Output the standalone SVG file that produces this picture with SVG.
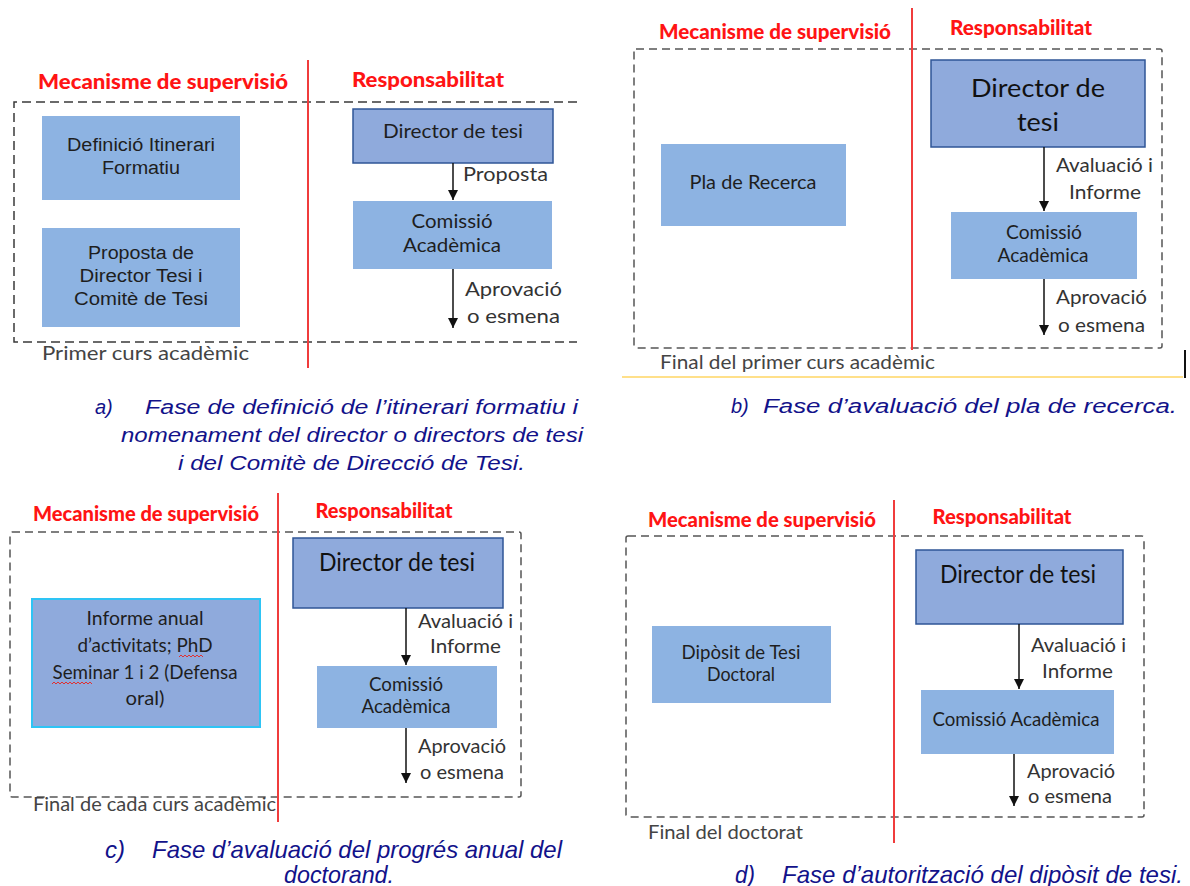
<svg xmlns="http://www.w3.org/2000/svg" width="1190" height="886" viewBox="0 0 1190 886">
<defs>
<style>
.bg{fill:#ffffff}
.lb{fill:#8DB3E2}
.db{fill:#8FAADC;stroke:#2F5597;stroke-width:1.5}
.ib{fill:#8FAADC;stroke:#2EC4F5;stroke-width:2}
.dash{fill:none;stroke:#3a3a3a;stroke-width:1.5;stroke-dasharray:9 5}
.dash2{fill:none;stroke:#555;stroke-width:1.5;stroke-dasharray:8 5}
.red{stroke:#F03C3C;stroke-width:2}
.conn{stroke:#111;stroke-width:1.5;fill:none;marker-end:url(#ah)}
.tt{font-family:Lato,"Liberation Sans",sans-serif;font-weight:900;font-size:20px;fill:#FF1414}
.bx{font-family:"Liberation Sans",Arial,sans-serif;font-size:18px;fill:#1e1e1e;text-anchor:middle}
.cb{font-family:Lato,"Liberation Sans",sans-serif;font-size:19px;fill:#1e1e1e;text-anchor:middle}
.dir{font-family:Lato,"Liberation Sans",sans-serif;font-size:25px;fill:#111;text-anchor:middle}
.lab{font-family:Lato,"Liberation Sans",sans-serif;font-size:20px;fill:#333}
.foot{font-family:Lato,"Liberation Sans",sans-serif;font-size:20px;fill:#444}
.cap{font-family:"Liberation Sans",Arial,sans-serif;font-style:italic;font-size:20px;fill:#12128A}
.capn{font-family:"Liberation Sans",Arial,sans-serif;font-style:italic;font-size:24px;fill:#12128A}
.sq{fill:none;stroke:#E03030;stroke-width:1}
</style>
<marker id="ah" viewBox="0 0 10 10" refX="10" refY="5" markerWidth="11" markerHeight="10" markerUnits="userSpaceOnUse" orient="auto">
<path d="M0,0 L10,5 L0,10 z" fill="#111"/>
</marker>
</defs>
<rect class="bg" x="0" y="0" width="1190" height="886"/>

<!-- Panel a -->
<g id="panel-a">
<text class="tt" x="163" y="89" text-anchor="middle" textLength="250" lengthAdjust="spacingAndGlyphs">Mecanisme de supervisió</text>
<text class="tt" x="428" y="87" text-anchor="middle" textLength="152" lengthAdjust="spacingAndGlyphs">Responsabilitat</text>
<path class="dash" d="M577,102 H14 V342 H577"/>
<line class="red" x1="308" y1="60" x2="308" y2="368"/>
<text class="foot" x="42" y="360" textLength="207" lengthAdjust="spacingAndGlyphs">Primer curs acadèmic</text>
</g>
<g id="a-definicio">
<rect class="lb" x="42" y="116" width="198" height="84"/>
<text class="bx" x="141" y="151" textLength="148" lengthAdjust="spacingAndGlyphs">Definició Itinerari</text>
<text class="bx" x="141" y="174" textLength="78" lengthAdjust="spacingAndGlyphs">Formatiu</text>
</g>
<g id="a-proposta">
<rect class="lb" x="42" y="228" width="198" height="99"/>
<text class="bx" x="141" y="259" textLength="106" lengthAdjust="spacingAndGlyphs">Proposta de</text>
<text class="bx" x="141" y="282" textLength="123" lengthAdjust="spacingAndGlyphs">Director Tesi i</text>
<text class="bx" x="141" y="305" textLength="134" lengthAdjust="spacingAndGlyphs">Comitè de Tesi</text>
</g>
<g id="a-director">
<rect class="db" x="353" y="109" width="200" height="54"/>
<text class="cb" x="453" y="138" font-size="21" textLength="140" lengthAdjust="spacingAndGlyphs">Director de tesi</text>
</g>
<g id="a-comissio">
<rect class="lb" x="353" y="201" width="199" height="68"/>
<text class="cb" x="452" y="228" textLength="81" lengthAdjust="spacingAndGlyphs">Comissió</text>
<text class="cb" x="452" y="252" textLength="98" lengthAdjust="spacingAndGlyphs">Acadèmica</text>
</g>

<!-- Panel b -->
<g id="panel-b">
<text class="tt" x="775" y="39" text-anchor="middle" textLength="232" lengthAdjust="spacingAndGlyphs">Mecanisme de supervisió</text>
<text class="tt" x="1021" y="35" text-anchor="middle" textLength="142" lengthAdjust="spacingAndGlyphs">Responsabilitat</text>
<rect class="dash2" x="634" y="49" width="528" height="299" rx="2"/>
<line class="red" x1="912" y1="8" x2="912" y2="350"/>
<text class="foot" x="660" y="369" textLength="275" lengthAdjust="spacingAndGlyphs">Final del primer curs acadèmic</text>
<line x1="622" y1="377" x2="1183" y2="377" stroke="#FFE08A" stroke-width="2"/>
<line x1="1185" y1="350" x2="1185" y2="378" stroke="#111" stroke-width="2"/>
</g>
<g id="b-pla">
<rect class="lb" x="661" y="144" width="185" height="82"/>
<text class="cb" x="753" y="189" textLength="127" lengthAdjust="spacingAndGlyphs">Pla de Recerca</text>
</g>
<g id="b-director">
<rect class="db" x="931" y="60" width="214" height="87"/>
<text class="dir" x="1038" y="97" font-size="28" textLength="134" lengthAdjust="spacingAndGlyphs">Director de</text>
<text class="dir" x="1038" y="131" font-size="28" textLength="42" lengthAdjust="spacingAndGlyphs">tesi</text>
</g>
<g id="b-comissio">
<rect class="lb" x="951" y="212" width="186" height="67"/>
<text class="cb" x="1044" y="239" textLength="76" lengthAdjust="spacingAndGlyphs">Comissió</text>
<text class="cb" x="1043" y="262" textLength="91" lengthAdjust="spacingAndGlyphs">Acadèmica</text>
</g>

<!-- Panel c -->
<g id="panel-c">
<text class="tt" x="146" y="521" text-anchor="middle" textLength="226" lengthAdjust="spacingAndGlyphs">Mecanisme de supervisió</text>
<text class="tt" x="384" y="518" text-anchor="middle" textLength="137" lengthAdjust="spacingAndGlyphs">Responsabilitat</text>
<rect class="dash2" x="10" y="532" width="511" height="265" rx="2"/>
<line class="red" x1="278" y1="493" x2="278" y2="822"/>
<text class="foot" x="33" y="811" textLength="243" lengthAdjust="spacingAndGlyphs">Final de cada curs acadèmic</text>
</g>
<g id="c-informe">
<rect class="ib" x="32" y="599" width="228" height="128"/>
<text class="cb" x="145" y="625" textLength="117" lengthAdjust="spacingAndGlyphs">Informe anual</text>
<text class="cb" x="145" y="652" textLength="135" lengthAdjust="spacingAndGlyphs">d’activitats; PhD</text>
<text class="cb" x="145" y="679" textLength="185" lengthAdjust="spacingAndGlyphs">Seminar 1 i 2 (Defensa</text>
<text class="cb" x="145" y="705" textLength="39" lengthAdjust="spacingAndGlyphs">oral)</text>
<path class="sq" d="M179,657 l2,-2 l2,2 l2,-2 l2,2 l2,-2 l2,2 l2,-2 l2,2 l2,-2 l2,2 l2,-2 l2,2"/>
<path class="sq" d="M52,684 l2,-2 l2,2 l2,-2 l2,2 l2,-2 l2,2 l2,-2 l2,2 l2,-2 l2,2 l2,-2 l2,2 l2,-2 l2,2 l2,-2 l2,2 l2,-2 l2,2 l2,-2 l2,2"/>
</g>
<g id="c-director">
<rect class="db" x="293" y="538" width="210" height="70"/>
<text class="dir" x="397" y="571" textLength="156" lengthAdjust="spacingAndGlyphs">Director de tesi</text>
</g>
<g id="c-comissio">
<rect class="lb" x="317" y="666" width="180" height="62"/>
<text class="cb" x="406" y="691" textLength="74" lengthAdjust="spacingAndGlyphs">Comissió</text>
<text class="cb" x="406" y="713" textLength="89" lengthAdjust="spacingAndGlyphs">Acadèmica</text>
</g>

<!-- Panel d -->
<g id="panel-d">
<text class="tt" x="762" y="527" text-anchor="middle" textLength="228" lengthAdjust="spacingAndGlyphs">Mecanisme de supervisió</text>
<text class="tt" x="1002" y="524" text-anchor="middle" textLength="139" lengthAdjust="spacingAndGlyphs">Responsabilitat</text>
<rect class="dash2" x="626" y="536" width="518" height="281" rx="2"/>
<line class="red" x1="894" y1="500" x2="894" y2="843"/>
<text class="foot" x="648" y="839" textLength="155" lengthAdjust="spacingAndGlyphs">Final del doctorat</text>
</g>
<g id="d-diposit">
<rect class="lb" x="652" y="626" width="179" height="77"/>
<text class="cb" x="741" y="659" textLength="119" lengthAdjust="spacingAndGlyphs">Dipòsit de Tesi</text>
<text class="cb" x="741" y="681" textLength="68" lengthAdjust="spacingAndGlyphs">Doctoral</text>
</g>
<g id="d-director">
<rect class="db" x="916" y="550" width="207" height="74"/>
<text class="dir" x="1018" y="583" textLength="156" lengthAdjust="spacingAndGlyphs">Director de tesi</text>
</g>
<g id="d-comissio">
<rect class="lb" x="921" y="690" width="193" height="64"/>
<text class="cb" x="1016" y="726" textLength="167" lengthAdjust="spacingAndGlyphs">Comissió Acadèmica</text>
</g>

<!-- Connectors -->
<g id="connectors">
<line class="conn" x1="453" y1="163" x2="453" y2="200"/>
<line class="conn" x1="453" y1="269" x2="453" y2="328"/>
<line class="conn" x1="1044" y1="147" x2="1044" y2="211"/>
<line class="conn" x1="1044" y1="279" x2="1044" y2="335"/>
<line class="conn" x1="406" y1="608" x2="406" y2="665"/>
<line class="conn" x1="406" y1="728" x2="406" y2="783"/>
<line class="conn" x1="1019" y1="624" x2="1019" y2="689"/>
<line class="conn" x1="1014" y1="754" x2="1014" y2="806"/>
</g>
<g id="connector-labels">
<text class="lab" x="463" y="181" textLength="85" lengthAdjust="spacingAndGlyphs">Proposta</text>
<text class="lab" x="465" y="296" textLength="97" lengthAdjust="spacingAndGlyphs">Aprovació</text>
<text class="lab" x="467" y="323" textLength="93" lengthAdjust="spacingAndGlyphs">o esmena</text>
<text class="lab" x="1056" y="172" textLength="97" lengthAdjust="spacingAndGlyphs">Avaluació i</text>
<text class="lab" x="1069" y="199" textLength="72" lengthAdjust="spacingAndGlyphs">Informe</text>
<text class="lab" x="1056" y="304" textLength="91" lengthAdjust="spacingAndGlyphs">Aprovació</text>
<text class="lab" x="1058" y="332" textLength="87" lengthAdjust="spacingAndGlyphs">o esmena</text>
<text class="lab" x="418" y="628" textLength="95" lengthAdjust="spacingAndGlyphs">Avaluació i</text>
<text class="lab" x="430" y="653" textLength="71" lengthAdjust="spacingAndGlyphs">Informe</text>
<text class="lab" x="418" y="753" textLength="88" lengthAdjust="spacingAndGlyphs">Aprovació</text>
<text class="lab" x="420" y="779" textLength="84" lengthAdjust="spacingAndGlyphs">o esmena</text>
<text class="lab" x="1031" y="652" textLength="95" lengthAdjust="spacingAndGlyphs">Avaluació i</text>
<text class="lab" x="1042" y="678" textLength="71" lengthAdjust="spacingAndGlyphs">Informe</text>
<text class="lab" x="1027" y="778" textLength="88" lengthAdjust="spacingAndGlyphs">Aprovació</text>
<text class="lab" x="1028" y="803" textLength="84" lengthAdjust="spacingAndGlyphs">o esmena</text>
</g>

<!-- Captions -->
<g id="captions">
<text class="cap" x="95" y="414">a)</text>
<text class="cap" x="145" y="414" textLength="433" lengthAdjust="spacingAndGlyphs">Fase de definició de l’itinerari formatiu i</text>
<text class="cap" x="121" y="442" textLength="462" lengthAdjust="spacingAndGlyphs">nomenament del director o directors de tesi</text>
<text class="cap" x="178" y="470" textLength="347" lengthAdjust="spacingAndGlyphs">i del Comitè de Direcció de Tesi.</text>
<text class="cap" x="731" y="413">b)</text>
<text class="cap" x="763" y="413" textLength="414" lengthAdjust="spacingAndGlyphs">Fase d’avaluació del pla de recerca.</text>
<text class="capn" x="105" y="858" textLength="20" lengthAdjust="spacingAndGlyphs">c)</text>
<text class="capn" x="152" y="858" textLength="410" lengthAdjust="spacingAndGlyphs">Fase d’avaluació del progrés anual del</text>
<text class="capn" x="284" y="883" textLength="110" lengthAdjust="spacingAndGlyphs">doctorand.</text>
<text class="capn" x="735" y="883" textLength="20" lengthAdjust="spacingAndGlyphs">d)</text>
<text class="capn" x="782" y="883" textLength="401" lengthAdjust="spacingAndGlyphs">Fase d’autorització del dipòsit de tesi.</text>
</g>
</svg>
